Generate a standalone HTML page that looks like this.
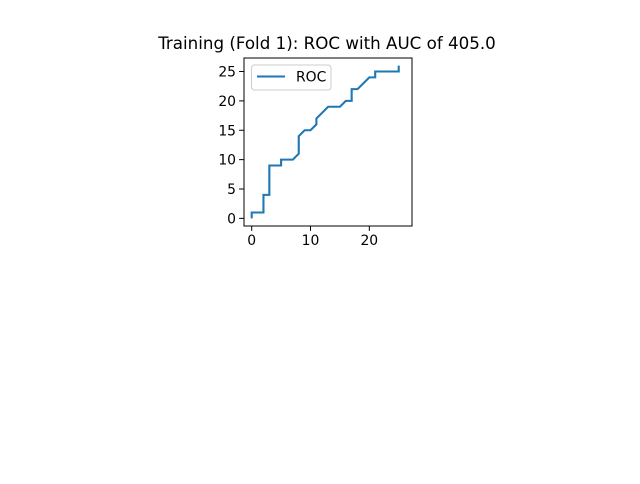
<!DOCTYPE html>
<html><head><meta charset="utf-8"><style>
body{margin:0;background:#fff;font-family:"DejaVu Sans","Liberation Sans",sans-serif}
svg text{font-family:"DejaVu Sans","Liberation Sans",sans-serif}
</style></head><body>
<svg id="c" width="640" height="480">
<rect width="640" height="480" fill="#fff"/>
<text x="327" y="49" font-size="16.7" text-anchor="middle">Training (Fold 1): ROC with AUC of 405.0</text>
</svg>
<script>
const fpr=[0,0,2,2,3,3,5,5,7,8,8,9,10,11,11,13,15,16,17,17,18,20,21,21,25,25];
const tpr=[0,1,1,4,4,9,9,10,10,11,14,15,15,16,17,19,19,20,20,22,22,24,24,25,25,26];
const xTicks=[0,10,20];
const yTicks=[0,5,10,15,20,25];
const L=244,R=412,T=58,B=226,xmin=-1.31,xmax=27.26,ymin=-1.3,ymax=27.3;
const sx=v=>L+(v-xmin)/(xmax-xmin)*(R-L);
const sy=v=>B-(v-ymin)/(ymax-ymin)*(B-T);
const svg=document.getElementById('c');const NS='http://www.w3.org/2000/svg';
function mk(t,a){const e=document.createElementNS(NS,t);for(const k in a)e.setAttribute(k,a[k]);svg.appendChild(e);return e;}
const ln=mk('polyline',{points:fpr.map((x,i)=>sx(x)+','+sy(tpr[i])).join(' '),fill:'none',stroke:'#1f77b4','stroke-width':2.1});


const fr=mk('rect',{x:L,y:T,width:R-L,height:B-T,fill:'none',stroke:'#000','stroke-width':1});


xTicks.forEach(v=>{const x=sx(v);mk('line',{x1:x,x2:x,y1:B,y2:B+4.9,stroke:'#000','stroke-width':1});
const t=mk('text',{x:x,y:B+19,'font-size':13.9,'text-anchor':'middle'});t.textContent=v;

});
yTicks.forEach(v=>{const y=sy(v);mk('line',{x1:L-4.9,x2:L,y1:y,y2:y,stroke:'#000','stroke-width':1});
const t=mk('text',{x:L-8,y:y+5,'font-size':13.9,'text-anchor':'end'});t.textContent=v;

});
const lg=mk('rect',{x:251.5,y:65,width:79.5,height:25,rx:3,fill:'#fff','fill-opacity':0.8,stroke:'#ccc','stroke-width':1});


mk('line',{x1:257,x2:285,y1:76.5,y2:76.5,stroke:'#1f77b4','stroke-width':2.1});
const lt=mk('text',{x:296,y:81.5,'font-size':13.9});lt.textContent='ROC';


</script>
</body></html>
